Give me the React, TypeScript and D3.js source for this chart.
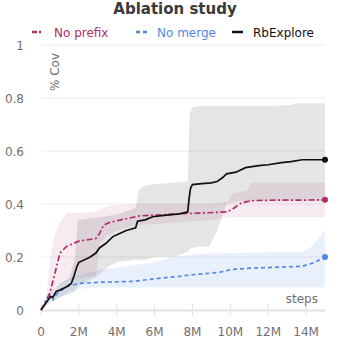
import React from "react";
import * as d3 from "d3";

// ---- data (x in millions of steps) ----
const xTicks = [0, 2, 4, 6, 8, 10, 12, 14];
const xTickLabels = ["0", "2M", "4M", "6M", "8M", "10M", "12M", "14M"];
const yTicks = [0, 0.2, 0.4, 0.6, 0.8, 1];
const yTickLabels = ["0", "0.2", "0.4", "0.6", "0.8", "1"];

const seriesNames = ["No prefix", "No merge", "RbExplore"];

const rbX = [0, 0.25, 0.5, 0.63, 0.8, 1.0, 1.35, 1.6, 1.75, 1.9, 2.0, 2.3, 2.6, 2.9, 3.1, 3.4, 3.8, 4.1, 4.5, 5.0, 5.1, 5.5, 5.9, 6.5, 7.3, 7.75, 7.82, 7.9, 8.0, 8.5, 9.0, 9.3, 9.6, 9.8, 10.3, 10.8, 11.5, 12.0, 12.7, 13.2, 13.8, 14.5, 15];
const rbY = [0, 0.025, 0.05, 0.048, 0.07, 0.075, 0.088, 0.1, 0.13, 0.165, 0.18, 0.19, 0.2, 0.215, 0.235, 0.25, 0.277, 0.287, 0.3, 0.31, 0.335, 0.34, 0.352, 0.357, 0.363, 0.37, 0.42, 0.46, 0.473, 0.477, 0.48, 0.485, 0.5, 0.514, 0.52, 0.537, 0.545, 0.548, 0.556, 0.56, 0.567, 0.567, 0.567];

const rbBandX = [0, 0.5, 1.0, 1.5, 1.8, 1.95, 2.5, 3.0, 3.5, 4.0, 5.0, 5.15, 5.5, 6.0, 7.0, 7.75, 7.85, 8.0, 8.5, 8.9, 9.3, 9.8, 10.5, 11, 12, 13.3, 13.4, 15];
const rbUpper = [0, 0.07, 0.1, 0.12, 0.2, 0.34, 0.345, 0.35, 0.355, 0.36, 0.385, 0.45, 0.47, 0.475, 0.48, 0.485, 0.74, 0.765, 0.77, 0.77, 0.77, 0.77, 0.77, 0.77, 0.77, 0.775, 0.78, 0.78];
const rbLower = [0, 0.03, 0.05, 0.06, 0.07, 0.09, 0.11, 0.13, 0.16, 0.18, 0.19, 0.19, 0.19, 0.2, 0.2, 0.22, 0.23, 0.235, 0.24, 0.24, 0.3, 0.4, 0.41, 0.41, 0.41, 0.41, 0.41, 0.41];

const npX = [0, 0.3, 0.47, 0.74, 1.0, 1.35, 2.0, 2.9, 3.1, 3.3, 3.6, 4.2, 5.2, 6.0, 7.3, 8.5, 9.8, 10.1, 10.6, 11.2, 12, 13, 14, 15];
const npY = [0, 0.04, 0.065, 0.14, 0.215, 0.24, 0.26, 0.27, 0.29, 0.32, 0.33, 0.34, 0.355, 0.358, 0.363, 0.366, 0.37, 0.38, 0.405, 0.413, 0.414, 0.415, 0.415, 0.416];

const npBandX = [0, 0.3, 0.5, 0.7, 1.0, 1.4, 1.9, 2.9, 3.1, 3.5, 4.0, 5.0, 7.0, 9.0, 9.9, 10.1, 10.9, 11.1, 15];
const npUpper = [0, 0.06, 0.2, 0.28, 0.33, 0.365, 0.367, 0.37, 0.38, 0.39, 0.395, 0.4, 0.4, 0.4, 0.41, 0.44, 0.45, 0.48, 0.48];
const npLower = [0, 0.02, 0.05, 0.09, 0.1, 0.11, 0.12, 0.13, 0.25, 0.28, 0.3, 0.32, 0.33, 0.34, 0.35, 0.35, 0.35, 0.35, 0.35];

const nmX = [0, 0.3, 0.5, 0.65, 0.8, 1.0, 1.35, 2.0, 3.1, 4.9, 6.0, 7.3, 8.0, 9.4, 10.1, 11.0, 12.0, 13.0, 13.8, 14.4, 15];
const nmY = [0, 0.035, 0.058, 0.04, 0.058, 0.07, 0.088, 0.1, 0.105, 0.108, 0.118, 0.127, 0.133, 0.142, 0.153, 0.158, 0.16, 0.163, 0.165, 0.178, 0.2];

const nmBandX = [0, 0.5, 0.6, 1.0, 1.5, 2.0, 3, 4, 5, 6, 7, 8, 10, 13.8, 14.3, 15];
const nmUpper = [0, 0.06, 0.05, 0.1, 0.12, 0.13, 0.15, 0.16, 0.17, 0.18, 0.2, 0.21, 0.215, 0.22, 0.24, 0.3];
const nmLower = [0, 0.05, 0.03, 0.045, 0.07, 0.08, 0.085, 0.085, 0.085, 0.085, 0.085, 0.085, 0.085, 0.085, 0.085, 0.085];

const PINK = "#b02d69";
const BLUE = "#5487e0";
const BLACK = "#111111";

const W = 349;
const H = 346;

export default function App() {
  const x = d3.scaleLinear().domain([0, 15]).range([41, 325]);
  const y = d3.scaleLinear().domain([0, 1]).range([310, 45]);

  const line = (xs: number[], ys: number[]) =>
    d3.line<number>().x((_, i) => x(xs[i])).y((d) => y(d))(ys) || "";
  const area = (xs: number[], lo: number[], hi: number[]) =>
    d3
      .area<number>()
      .x((_, i) => x(xs[i]))
      .y0((_, i) => y(lo[i]))
      .y1((d) => y(d))(hi) || "";

  const font = "DejaVu Sans, sans-serif";
  const tickColor = "#707070";

  const legendItems = [
    { name: seriesNames[0], color: PINK, dash: "5,2,2,2", sx: 32, tx: 54, textColor: PINK },
    { name: seriesNames[1], color: BLUE, dash: "4,3", sx: 136, tx: 157, textColor: BLUE },
    { name: seriesNames[2], color: BLACK, dash: "", sx: 232, tx: 253, textColor: "#111" },
  ];

  return (
    <svg
      width={W}
      height={H}
      style={{ position: "absolute", left: 0, top: 0, background: "#fff" }}
      fontFamily={font}
    >
      <text x={175} y={13.5} textAnchor="middle" fontSize={15} fontWeight="bold" fill="#3a3a3a">
        Ablation study
      </text>

      {legendItems.map((l) => (
        <g key={l.name}>
          <line
            x1={l.sx}
            x2={l.sx + 11}
            y1={32}
            y2={32}
            stroke={l.color}
            strokeWidth={2.5}
            strokeDasharray={l.dash || undefined}
          />
          <text x={l.tx} y={36.5} fontSize={12} fill={l.textColor}>
            {l.name}
          </text>
        </g>
      ))}

      {/* grid */}
      {yTicks.slice(1).map((t) => (
        <line key={t} x1={41} x2={325} y1={y(t)} y2={y(t)} stroke="#ececec" strokeWidth={1} />
      ))}
      {yTicks.map((t, i) => (
        <text key={"yl" + t} x={24} y={y(t) + 4.5} textAnchor="end" fontSize={12} fill={tickColor}>
          {yTickLabels[i]}
        </text>
      ))}

      {/* x axis */}
      <line x1={41} x2={325} y1={310.5} y2={310.5} stroke="#e3e3e3" strokeWidth={2} />
      {xTicks.map((t, i) => (
        <g key={"xt" + t}>
          <line x1={x(t)} x2={x(t)} y1={304} y2={316} stroke="#e3e3e3" strokeWidth={1} />
          <text x={x(t)} y={336} textAnchor="middle" fontSize={12} fill={tickColor}>
            {xTickLabels[i]}
          </text>
        </g>
      ))}

      {/* bands */}
      <path d={area(nmBandX, nmLower, nmUpper)} fill={BLUE} fillOpacity={0.12} />
      <path d={area(npBandX, npLower, npUpper)} fill={PINK} fillOpacity={0.1} />
      <path d={area(rbBandX, rbLower, rbUpper)} fill="#000" fillOpacity={0.1} />

      {/* lines */}
      <path d={line(nmX, nmY)} fill="none" stroke={BLUE} strokeWidth={1.7} strokeDasharray="4,3" />
      <path d={line(npX, npY)} fill="none" stroke={PINK} strokeWidth={1.7} strokeDasharray="6,2.5,2,2.5" />
      <path d={line(rbX, rbY)} fill="none" stroke={BLACK} strokeWidth={1.7} />

      <circle cx={x(15)} cy={y(nmY[nmY.length - 1])} r={3} fill={BLUE} />
      <circle cx={x(15)} cy={y(npY[npY.length - 1])} r={3} fill={PINK} />
      <circle cx={x(15)} cy={y(rbY[rbY.length - 1])} r={3} fill={BLACK} />

      <text x={318} y={303} textAnchor="end" fontSize={12} fill={tickColor}>
        steps
      </text>
      <text transform="translate(59,91) rotate(-90)" fontSize={12} fill={tickColor}>
        % Cov
      </text>
    </svg>
  );
}
